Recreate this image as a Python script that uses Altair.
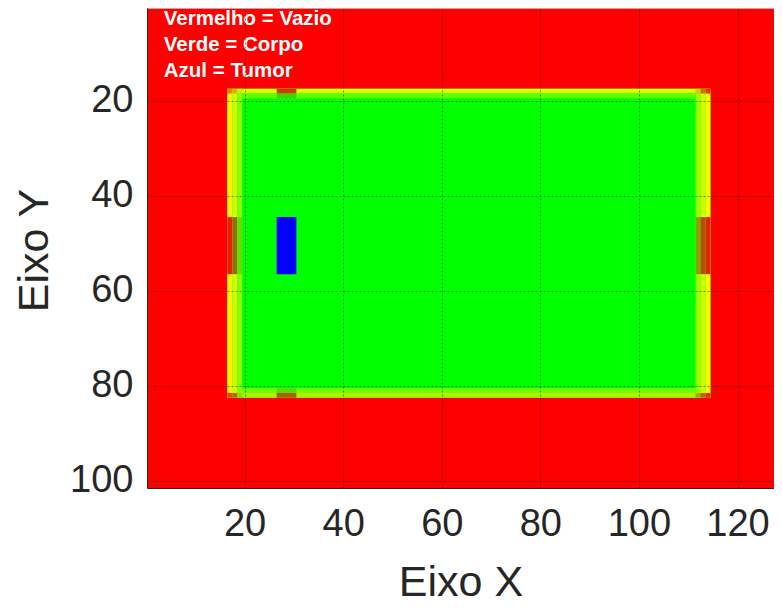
import altair as alt
import pandas as pd

# ---- image blocks (cell index ranges, inclusive) and their colours ----
block_name = [
    "fundo", "corpo",
    "c17", "c18", "c19", "c112", "c113", "c114",
    "r18", "r19", "r81", "r82",
    "tl17", "tl18", "tl19", "tr112", "tr113", "tr114",
    "bl17", "bl18", "bl19", "br112", "br113", "br114",
    "nl17", "nl18", "nl19", "nr112", "nr113", "nr114",
    "nt18", "nt19", "nb82", "nb81",
    "tumor",
]
col_first = [0, 17, 17, 18, 19, 112, 113, 114, 20, 20, 20, 20,
             17, 18, 19, 112, 113, 114, 17, 18, 19, 112, 113, 114,
             17, 18, 19, 112, 113, 114, 27, 27, 27, 27, 27]
col_last = [130, 114, 17, 18, 19, 112, 113, 114, 111, 111, 111, 111,
            17, 18, 19, 112, 113, 114, 17, 18, 19, 112, 113, 114,
            17, 18, 19, 112, 113, 114, 30, 30, 30, 30, 30]
row_first = [0, 18, 18, 18, 18, 18, 18, 18, 18, 19, 81, 82,
             18, 18, 18, 18, 18, 18, 82, 82, 82, 82, 82, 82,
             45, 45, 45, 45, 45, 45, 18, 19, 82, 81, 45]
row_last = [102, 82, 82, 82, 82, 82, 82, 82, 18, 19, 81, 82,
            18, 18, 18, 18, 18, 18, 82, 82, 82, 82, 82, 82,
            56, 56, 56, 56, 56, 56, 18, 19, 82, 81, 56]
block_color = [
    "#ff0000", "#00ff00",
    "#f4f400", "#d0ff00", "#88ff00", "#98ff00", "#d0ff00", "#f0ff00",
    "#dcff00", "#60ff00", "#70ff00", "#b0f000",
    "#e88000", "#e0b000", "#c8f000", "#e0c800", "#d87000", "#e03800",
    "#e84000", "#c06000", "#a0d000", "#a0b000", "#c06000", "#e03000",
    "#e82000", "#907000", "#60e000", "#88a000", "#b05000", "#d82800",
    "#d03800", "#40d400", "#a86000", "#50e000",
    "#0000ff",
]

legend_text = ["Vermelho = Vazio", "Verde = Corpo", "Azul = Tumor"]
legend_x = [3.6, 3.6, 3.6]
legend_y = [4.1, 9.6, 15.0]

x_ticks = [20, 40, 60, 80, 100, 120]
y_ticks = [20, 40, 60, 80, 100]
x_domain = [0.2, 127.4]
y_domain = [0.5, 101.5]

blocks = pd.DataFrame({
    "nome": block_name,
    "x0": [c - 0.5 for c in col_first],
    "x1": [c + 0.5 for c in col_last],
    "y0": [r - 0.5 for r in row_first],
    "y1": [r + 0.5 for r in row_last],
    "cor": block_color,
    "ordem": list(range(len(block_name))),
})
labels = pd.DataFrame({"t": legend_text, "x": legend_x, "y": legend_y})

FONT = "Liberation Sans"
AX = "#262626"

xscale = alt.Scale(domain=x_domain, nice=False, zero=False)
yscale = alt.Scale(domain=y_domain, nice=False, zero=False, reverse=True)

xaxis = alt.Axis(values=x_ticks, title="Eixo X", grid=True, ticks=False,
                 labelFont=FONT, labelFontSize=38, labelColor=AX, labelPadding=17,
                 titleFont=FONT, titleFontSize=43, titleFontWeight="normal", titleColor=AX,
                 titleY=94, titleBaseline="middle",
                 domainColor=AX, gridColor=AX, gridOpacity=0.55, gridDash=[2, 2],
                 zindex=1)
yaxis = alt.Axis(values=y_ticks, title="Eixo Y", grid=True, ticks=False,
                 labelFont=FONT, labelFontSize=38, labelColor=AX, labelPadding=14,
                 titleFont=FONT, titleFontSize=43, titleFontWeight="normal", titleColor=AX,
                 titleX=-113, titleY=242, titleBaseline="middle", titleAngle=-90,
                 domainColor=AX, gridColor=AX, gridOpacity=0.55, gridDash=[2, 2],
                 zindex=1)

rects = alt.Chart(blocks).mark_rect(clip=True).encode(
    x=alt.X("x0:Q", scale=xscale, axis=xaxis),
    x2="x1:Q",
    y=alt.Y("y0:Q", scale=yscale, axis=yaxis),
    y2="y1:Q",
    color=alt.Color("cor:N", scale=None),
    order="ordem:Q",
)

top_line = alt.Chart(labels).mark_rule(color="#bdbdbd", strokeWidth=1).encode(
    y=alt.datum(0.5, scale=yscale),
)

texts = alt.Chart(labels).mark_text(
    align="left", baseline="alphabetic", font=FONT, fontSize=20.5,
    fontWeight="bold", color="white"
).encode(
    x=alt.X("x:Q", scale=xscale),
    y=alt.Y("y:Q", scale=yscale),
    text="t:N",
)

chart = alt.layer(rects, top_line, texts).properties(
    width=627, height=480,
    autosize=alt.AutoSizeParams(type="none"),
    padding={"left": 139, "top": 0, "right": 0, "bottom": 112},
).configure_view(stroke=None)

chart.save("out.html", embed_options={"renderer": "svg", "actions": False})
